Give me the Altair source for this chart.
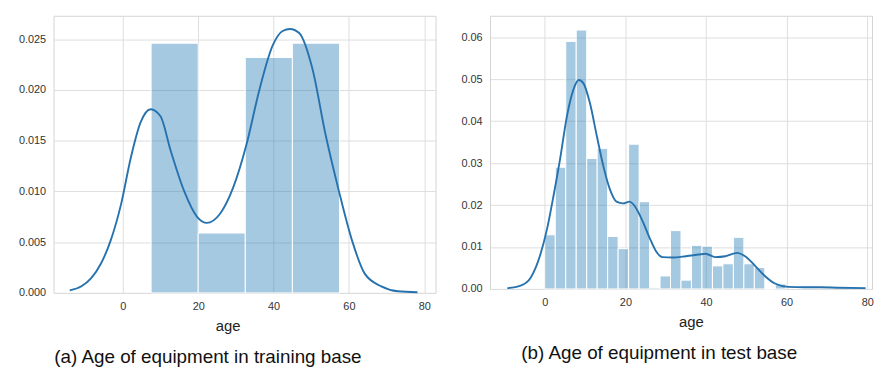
import altair as alt
import pandas as pd

# ---- Panel (a): training base ----
train_bin_start = [7.5, 20.0, 32.5, 45.0]
train_bin_end = [20.0, 32.5, 45.0, 57.5]
train_density = [0.0246, 0.0059, 0.0232, 0.0246]

train_kde_x = [-14.1, -11, -8.4, -5.8, -3.2, -0.5, 2.1, 4.7, 7.4, 10, 12.7, 16.2, 19.7,
               22.3, 25.8, 29.3, 32.8, 36.3, 39.8, 42.4, 44.4, 46.8, 50.3, 53.8, 57.3,
               60.8, 64.2, 68.6, 73, 78.2]
train_kde_y = [0.00025, 0.00065, 0.00146, 0.0029, 0.0052, 0.0087, 0.0133, 0.0168, 0.0181,
               0.0174, 0.014, 0.0101, 0.0075, 0.0069, 0.0078, 0.0104, 0.0146, 0.0201,
               0.0244, 0.0258, 0.026, 0.0256, 0.0221, 0.0156, 0.0101, 0.0052, 0.0019,
               0.00065, 0.00016, 0.00006]

# ---- Panel (b): test base ----
test_bin_start = [0, 2.6, 5.2, 7.8, 10.4, 13, 15.6, 18.2, 20.8, 23.4, 26, 28.6, 31.2,
                  33.8, 36.4, 39, 41.6, 44.2, 46.8, 49.4, 52, 54.6, 57.2]
test_bin_end = [2.6, 5.2, 7.8, 10.4, 13, 15.6, 18.2, 20.8, 23.4, 26, 28.6, 31.2, 33.8,
                36.4, 39, 41.6, 44.2, 46.8, 49.4, 52, 54.6, 57.2, 59.8]
test_density = [0.0129, 0.029, 0.059, 0.0617, 0.0311, 0.0335, 0.0125, 0.0096, 0.0345,
                0.0208, 0.0003, 0.0031, 0.0139, 0.0021, 0.0104, 0.0102, 0.0055, 0.006,
                0.0123, 0.006, 0.0051, 0.0, 0.0012]

test_kde_x = [-9.3, -6, -3.5, -1.1, 0.6, 2.2, 3.8, 5.5, 7.1, 8.4, 9.6, 11.2, 12.9, 14.5,
              16.1, 17.8, 19.4, 21, 22.7, 24.3, 26, 27.6, 29.2, 31.7, 35, 38.2, 39.9,
              42.3, 44.8, 47.7, 49.7, 52.2, 54.6, 57.1, 60.4, 64.5, 68.5, 72.6, 79.6]
test_kde_y = [0.0002, 0.0008, 0.0027, 0.0082, 0.0145, 0.0224, 0.031, 0.0412, 0.0475,
              0.0498, 0.049, 0.0443, 0.0365, 0.0294, 0.0239, 0.0208, 0.0204, 0.0208,
              0.0192, 0.0161, 0.0122, 0.009, 0.0076, 0.0075, 0.0078, 0.0082, 0.0084,
              0.0076, 0.0078, 0.0086, 0.0078, 0.0055, 0.0031, 0.0013, 0.0005, 0.0004,
              0.0004, 0.0003, 0.0002]

x_ticks = [0, 20, 40, 60, 80]
train_y_ticks = [0, 0.005, 0.01, 0.015, 0.02, 0.025]
test_y_ticks = [0, 0.01, 0.02, 0.03, 0.04, 0.05, 0.06]

caption_a = "(a) Age of equipment in training base"
caption_b = "(b) Age of equipment in test base"

BAR = "#1f77b4"
LINE = "#2672ae"


def panel(bstart, bend, dens, kx, ky, xdom, ydom, yticks, yfmt, w, h, caption,
          cap_dx, title_x):
    bars_df = pd.DataFrame({"start": bstart, "end": bend, "density": dens})
    kde_df = pd.DataFrame({"age": kx, "density": ky})
    xs = alt.Scale(domain=xdom, nice=False, zero=False)
    ys = alt.Scale(domain=ydom, nice=False, zero=False)
    xaxis = alt.Axis(values=x_ticks, title="age", format="d", titleX=title_x,
                     titleAlign="center")
    yaxis = alt.Axis(values=yticks, title=None, format=yfmt)
    bars = alt.Chart(bars_df).mark_rect(
        fill=BAR, fillOpacity=0.4, stroke="white", strokeWidth=1
    ).encode(
        x=alt.X("start:Q", scale=xs, axis=xaxis),
        x2="end:Q",
        y=alt.Y("density:Q", scale=ys, axis=yaxis),
        y2=alt.datum(0),
    )
    line = alt.Chart(kde_df).mark_line(
        color=LINE, strokeWidth=1.9, interpolate="monotone"
    ).encode(
        x=alt.X("age:Q", scale=xs),
        y=alt.Y("density:Q", scale=ys),
    )
    return alt.layer(bars, line).properties(
        width=w,
        height=h,
        title=alt.TitleParams(
            caption, orient="bottom", anchor="middle", fontSize=19,
            font="Liberation Sans", fontWeight="normal", color="#111",
            offset=15, dx=cap_dx,
        ),
    )


left = panel(train_bin_start, train_bin_end, train_density, train_kde_x, train_kde_y,
             [-18.4, 83], [0, 0.0273], train_y_ticks, ".3f", 386, 280, caption_a, -37,
             176)
right = panel(test_bin_start, test_bin_end, test_density, test_kde_x, test_kde_y,
              [-13.6, 81.2], [0, 0.0651], test_y_ticks, ".2f", 386, 276, caption_b, -22,
              203)

chart = alt.hconcat(left, right, spacing=24).properties(
    padding={"left": 9, "top": 5, "right": 0, "bottom": 0}
).configure_view(
    stroke="#d3d3d3", strokeWidth=1
).configure_axis(
    grid=True, gridColor="#dedede", gridWidth=1, domain=False, ticks=False,
    labelFont="Liberation Sans", labelFontSize=11, labelColor="#333",
    labelPadding=8, titleFont="Liberation Sans", titleFontSize=15,
    titleFontWeight="normal", titleColor="#222", titlePadding=7,
)

chart.save("out.html", embed_options={"renderer": "svg", "actions": False})
